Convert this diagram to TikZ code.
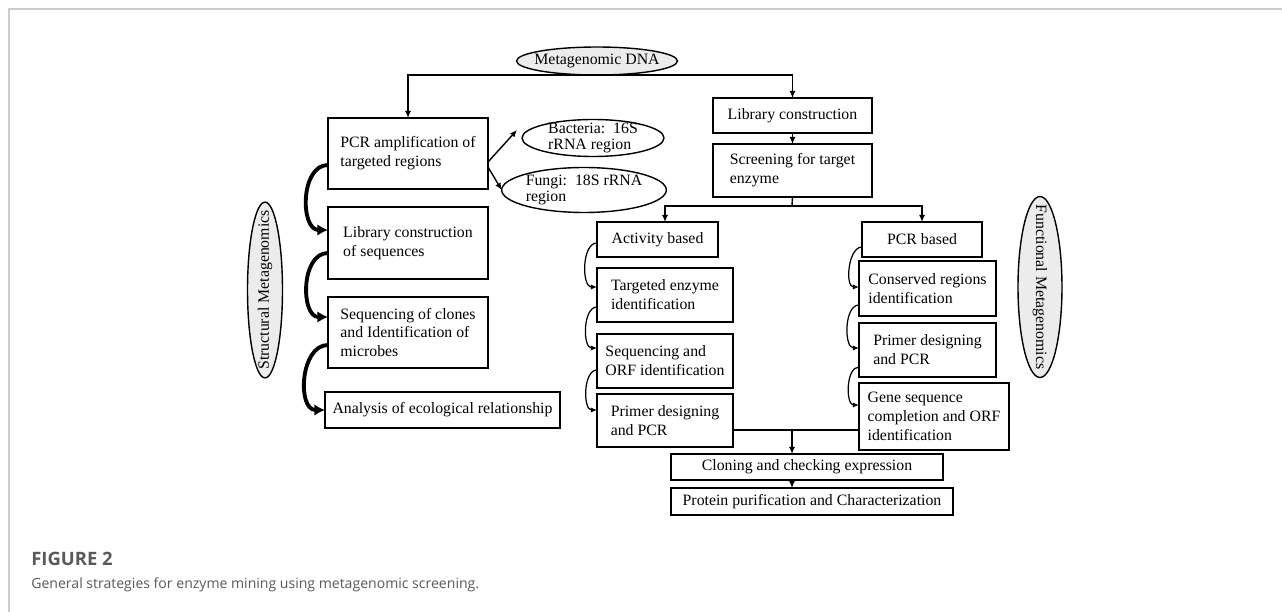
\documentclass[tikz,border=0pt]{standalone}
\usepackage{fontspec}
\setmainfont{Liberation Serif}
\newfontfamily\capfont{Open Sans}
\usetikzlibrary{arrows.meta,shapes.geometric}

\begin{document}
\begin{tikzpicture}[x=0.02cm, y=-0.02cm,
 font=\fontsize{9}{10.8}\selectfont,
    B/.style 2 args = {rectangle, draw, line width=1pt,% boxes of the flow
                minimum width=#1, minimum height=#2,
                align=left, inner sep=0pt, outer sep=0pt},
    E/.style = {ellipse, draw, line width=0.8pt, outer sep=0pt},% round labels
  arr/.style = {-{Latex[length=4pt,width=3.5pt]}, line width=0.8pt},
   ln/.style = {line width=0.8pt},
  thk/.style = {-{Latex[length=6pt,width=6.5pt]}, line width=2.2pt},
  thn/.style = {-{Latex[length=3.5pt,width=3pt]}, line width=0.7pt},
                        ]
\useasboundingbox (0,0) rectangle (1282,612);
\draw[gray!40, line width=1.2pt] (9,612) -- (9,9) -- (1282,9);

\node[E, fill=gray!15, minimum width=3.22cm, minimum height=0.56cm,
      inner xsep=-4pt, inner ysep=0pt] (dna) at (597,61) {Metagenomic DNA};

% structural side
\node[B={3.2cm}{1.42cm}] (pcr) at (408,153.5) {PCR amplification of\\targeted regions};
\node[B={3.2cm}{1.44cm}] (libs) at (408,243) {Library construction\\of sequences};
\node[B={3.2cm}{1.42cm}] (seqs) at (408,332.5) {Sequencing of clones\\and Identification of\\microbes};
\node[B={4.7cm}{0.72cm}] (anal) at (442.5,410) {Analysis of ecological relationship};
\node[E, font=\fontsize{9}{8.6}\selectfont, align=left, minimum width=2.84cm,
      minimum height=0.74cm, inner xsep=0pt, inner ysep=-2.5pt] (bact) at (593,138) {Bacteria:\ \ 16S\\rRNA region};
\node[E, font=\fontsize{9}{8.6}\selectfont, align=left, minimum width=3.04cm,
      minimum height=0.9cm, inner xsep=0pt, inner ysep=-2.5pt] (fung) at (584,190) {Fungi:\ \ 18S rRNA\\region};
\node[E, fill=gray!15, rotate=90, minimum width=3.5cm, minimum height=0.7cm,
      inner xsep=-10pt, inner ysep=0pt] (smg) at (265,290) {Structural Metagenomics};

% functional side
\node[B={3.18cm}{0.7cm}] (libr) at (792.5,115.5) {Library construction};
\node[B={3.18cm}{1.06cm}] (scr) at (792.5,170.5) {Screening for target\\enzyme};
\node[B={2.42cm}{0.7cm}] (act) at (657.5,239.5) {Activity based};
\node[B={2.72cm}{1.08cm}] (tgt) at (665,295) {Targeted enzyme\\identification};
\node[B={2.72cm}{1.08cm}] (sqo) at (665,361) {Sequencing and\\ORF identification};
\node[B={2.72cm}{1.06cm}] (prl) at (665,420.5) {Primer designing\\and PCR};
\node[B={2.4cm}{0.7cm}] (pcrb) at (922,239.5) {PCR based};
\node[B={2.74cm}{1.1cm}] (cons) at (927.5,288.5) {Conserved regions\\identification};
\node[B={2.74cm}{1.08cm}] (prr) at (927.5,350) {Primer designing\\and PCR};
\node[B={3.0cm}{1.34cm}] (gene) at (934,416.5) {Gene sequence\\completion and ORF\\identification};
\node[B={5.44cm}{0.52cm}] (clon) at (807,467) {Cloning and checking expression};
\node[B={5.64cm}{0.54cm}] (prot) at (812,501.5) {Protein purification and Characterization};
\node[E, fill=gray!15, rotate=-90, minimum width=3.62cm, minimum height=0.88cm,
      inner xsep=-11pt, inner ysep=0pt] (fmg) at (1040,287) {Functional Metagenomics};

% connectors
\draw[arr] (dna.south) -| (pcr.north);
\draw[arr] (dna.south) -| (libr.north);
\draw[arr] ([yshift=-0.17cm]pcr.east) -- ([xshift=-0.1cm,yshift=0.16cm]bact.west);
\draw[arr] ([yshift=-0.27cm]pcr.east) -- (fung.west);
\foreach \a/\b/\s/\t in {pcr/libs/-0.23cm/0.26cm, libs/seqs/-0.2cm/0.31cm, seqs/anal/-0.25cm/0cm}
    \draw[thk] ([yshift=\s]\a.west) to[out=180,in=180,looseness=1.1] ([yshift=\t]\b.west);
\draw[arr] (libr) -- (scr);
\coordinate (sp) at (792,206);
\draw[ln] (scr.south) -- (sp);
\draw[arr] (sp) -| ([xshift=0.15cm]act.north);
\draw[arr] (sp) -| (pcrb.north);
\foreach \a/\b/\s/\t in {act/tgt/-0.07cm/0.16cm, tgt/sqo/-0.24cm/0.26cm, sqo/prl/-0.18cm/0.21cm,
                         pcrb/cons/-0.15cm/0.03cm, cons/prr/-0.33cm/0.04cm, prr/gene/-0.34cm/0.23cm}
    \draw[thn] ([yshift=\s]\a.west) to[out=180,in=180,looseness=0.9] ([yshift=\t]\b.west);
\coordinate (mg) at (792,430);
\draw[ln] (prl.east |- mg) -- (gene.west |- mg);
\draw[arr] (mg) -- (mg |- clon.north);
\draw[arr] (mg |- clon.south) -- (mg |- prot.north);

% caption
\node[anchor=base west, inner sep=0pt, text=gray!70!black,
      font=\capfont\bfseries\fontsize{10.5}{12}\selectfont] (fig) at (31,565) {FIGURE 2};
\node[anchor=base west, inner sep=0pt, text=gray!70!black,
      font=\capfont\fontsize{8}{10}\selectfont] (cap) at (31,588) {General strategies for enzyme mining using metagenomic screening.};
\end{tikzpicture}
\end{document}
